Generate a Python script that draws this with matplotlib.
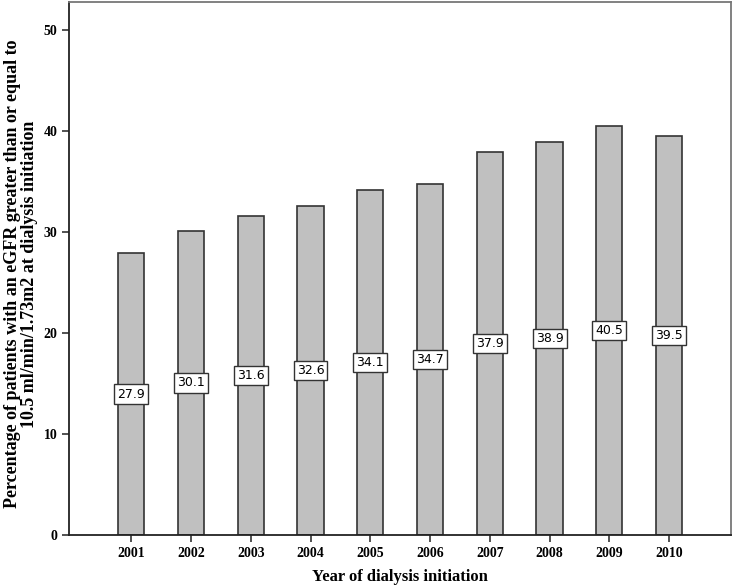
import matplotlib
matplotlib.use('Agg')
import matplotlib.pyplot as plt
import numpy as np

years = ['2001', '2002', '2003', '2004', '2005', '2006', '2007', '2008', '2009', '2010']
percent = [27.9, 30.1, 31.6, 32.6, 34.1, 34.7, 37.9, 38.9, 40.5, 39.5]
yticks = [0, 10, 20, 30, 40, 50]

fig = plt.figure(figsize=(7.35, 5.88), dpi=100)
ax = fig.add_axes([0.094, 0.090, 0.900, 0.906])

x = np.arange(len(years))
ax.bar(x, percent, width=0.44, color='#c0c0c0', edgecolor='#333333', linewidth=1.2, zorder=2)

for xi, v in zip(x, percent):
    ax.text(xi, v / 2, f'{v:.1f}', ha='center', va='center', fontsize=9,
            family='DejaVu Sans',
            bbox=dict(boxstyle='square,pad=0.25', facecolor='white', edgecolor='#333333', linewidth=1.0),
            zorder=3)

ax.set_xlim(-1.04, 10.03)
ax.set_ylim(0, 52.7)
ax.set_xticks(x)
ax.set_xticklabels(years)
ax.set_yticks(yticks)

serif = 'Liberation Serif'
for lab in ax.get_xticklabels() + ax.get_yticklabels():
    lab.set_family(serif)
    lab.set_fontweight('bold')
    lab.set_fontsize(10)

ax.tick_params(axis='both', length=5, width=1.2, color='#333333')
for side in ['left', 'bottom']:
    ax.spines[side].set_linewidth(1.3)
    ax.spines[side].set_color('#222222')
for side in ['top', 'right']:
    ax.spines[side].set_linewidth(1.3)
    ax.spines[side].set_color('#777777')

ax.set_xlabel('Year of dialysis initiation', family=serif, fontweight='bold', fontsize=12)
ax.xaxis.set_label_coords(0.5, -0.078)
ax.xaxis.label.set_va('center')
ax.set_ylabel('Percentage of patients with an eGFR greater than or equal to\n10.5 ml/min/1.73m2 at dialysis initiation',
              family=serif, fontweight='bold', fontsize=13, linespacing=1.0)
ax.yaxis.set_label_coords(-0.073, 0.49)
ax.yaxis.label.set_va('center')

fig.savefig('out.png', dpi=100)
